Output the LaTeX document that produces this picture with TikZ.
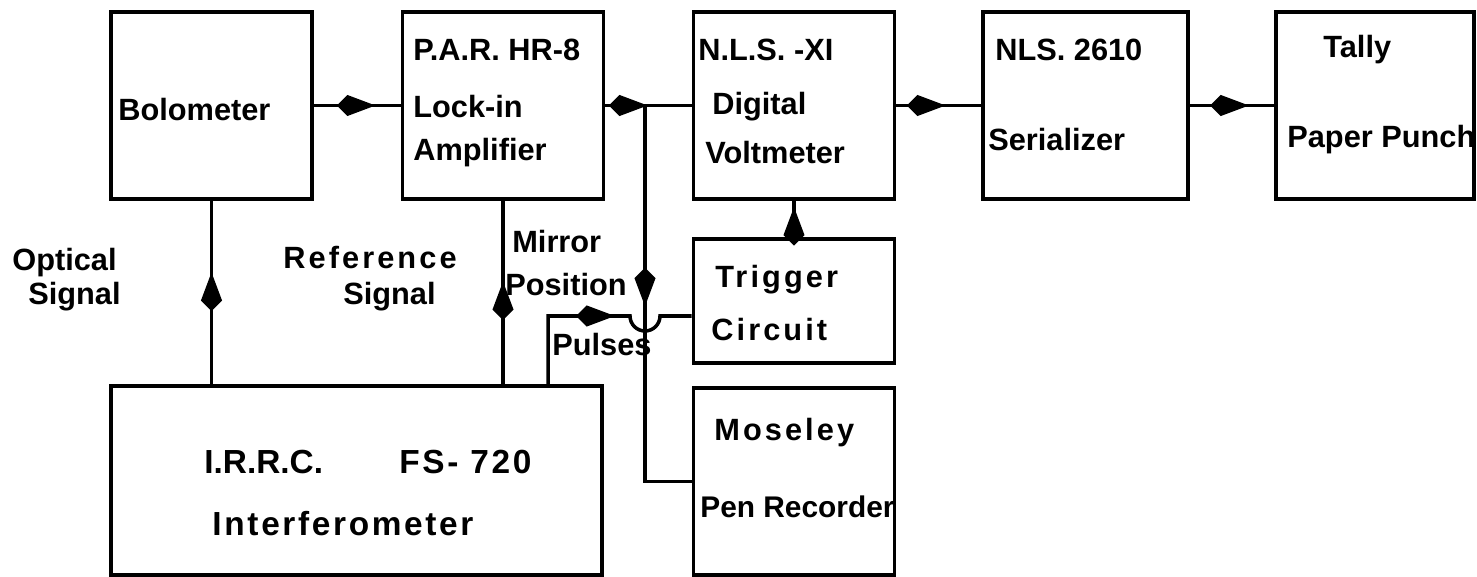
\documentclass[tikz,border=0pt]{standalone}
\usepackage{fontspec}
\setmainfont{Liberation Sans}
\newfontfamily\widefont[LetterSpace=10]{Liberation Sans}
\newfontfamily\ifmfont[LetterSpace=8]{Liberation Sans}
\usetikzlibrary{arrows.meta,positioning,calc,decorations.markings}

\begin{document}
\begin{tikzpicture}[x=0.02cm,y=-0.02cm,
  every node/.style={font=\fontsize{17.5}{20}\selectfont\bfseries},
  blk/.style={draw,line width=2.2pt,inner sep=0pt,minimum width=4.02cm,minimum height=3.74cm},
  txt/.style={anchor=west,inner sep=0pt},
  wide/.style={font=\fontsize{17.5}{20}\selectfont\widefont\bfseries},
  big/.style={font=\fontsize{19}{24}\selectfont\ifmfont\bfseries},
  wire/.style={line width=2pt},
  kite/.style={postaction={decorate},decoration={markings,
    mark=at position #1 with {\arrow{Kite[length=22pt,width=12pt,inset=6pt]}}}}
]
\useasboundingbox (0,0) rectangle (1477,577);

\node[blk] (bol) at (211.5,105.5) {};
\node[blk] (par) at (503,105.5) {};
\node[blk] (dvm) at (794,105.5) {};
\node[blk,minimum width=4.1cm] (ser) at (1085.5,105.5) {};
\node[blk,minimum width=3.96cm] (tal) at (1375,105.5) {};
\node[blk,minimum height=2.48cm] (trg) at (794,301) {};
\node[blk] (pen) at (794,481.5) {};
\node[blk,minimum width=9.82cm,minimum height=3.78cm] (ifm) at (356.5,480.5) {};

\node[txt] (bolA) at (118,110) {Bolometer};
\node[txt] (parA) at (413,50) {P.A.R. HR-8};
\node[txt] (parB) at (413,107) {Lock-in};
\node[txt] (parC) at (413,153) {Amplifier};
\node[txt] (dvmA) at (698,50) {N.L.S. -XI};
\node[txt] (dvmB) at (712,107) {Digital};
\node[txt] (dvmC) at (705,153) {Voltmeter};
\node[txt] (serA) at (995,50) {NLS. 2610};
\node[txt] (serB) at (988,140) {Serializer};
\node[txt] (talA) at (1323,50) {Tally};
\node[txt] (talB) at (1287,140) {Paper Punch};
\node[txt,wide] (trgA) at (715,280) {Trigger};
\node[txt,wide] (trgB) at (711,330) {Circuit};
\node[txt,wide] (penA) at (714,433) {Moseley};
\node[txt,font=\fontsize{17}{20}\selectfont\bfseries] (penB) at (700,507) {Pen Recorder};
\node[txt,font=\fontsize{19}{24}\selectfont\bfseries] (ifmA) at (204,462) {I.R.R.C.};
\node[txt,big] (ifmB) at (399,462) {FS- 720};
\node[big] (ifmC) at (343,524) {Interferometer};

\node[txt] (optA) at (12,263) {Optical};
\node[txt] (optB) at (28,297) {Signal};
\node[txt,wide] (refA) at (283,258) {Reference};
\node[txt] (refB) at (343,297) {Signal};
\node[txt] (mirA) at (512,242) {Mirror};
\node[txt] (mirB) at (505,285) {Position};
\node[txt] (mirC) at (552,345) {Pulses};

\coordinate (jn) at (645,105.5);
\coordinate (pls) at (548,316);
\coordinate (hop) at (jn |- pls);

\draw[wire,kite=0.71] (bol.east) -- (par.west);
\draw[wire,kite=0.49] (par.east) -- (dvm.west);
\draw[wire,kite=0.58] (dvm.east) -- (ser.west);
\draw[wire,kite=0.70] (ser.east) -- (tal.west);
\draw[wire,kite=0.61] (ifm.north -| bol.south) -- (bol.south);
\draw[wire,kite=0.56] (ifm.north -| par.south) -- (par.south);
\draw[wire,kite=0.83] (trg.north) -- (dvm.south);
\draw[wire,kite=0.475] (jn) |- (pen.west);
\draw[wire,kite=0.59] (ifm.north -| pls) -- (pls) -- ([xshift=-0.3cm]hop)
  arc[start angle=180,end angle=360,radius=0.3cm] -- (trg.west |- pls);
\end{tikzpicture}
\end{document}
